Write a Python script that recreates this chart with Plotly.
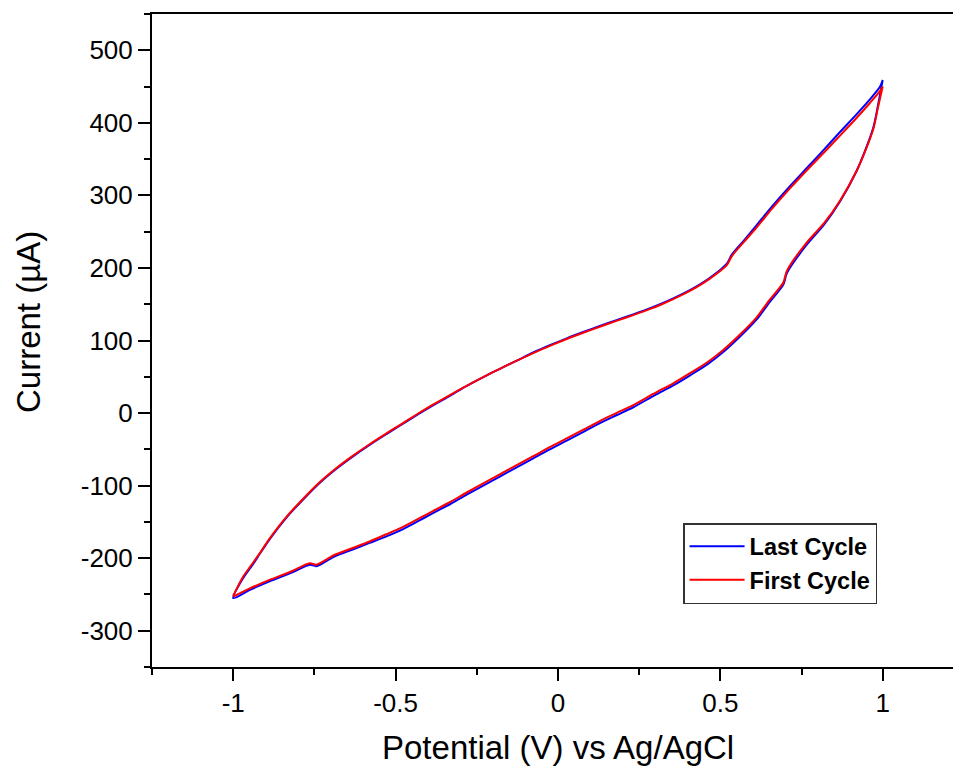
import plotly.graph_objects as go

# Cyclic voltammogram: forward scan (-1 V -> +1 V) then reverse scan (+1 V -> -1 V)
potential_fwd = [-1.0, -0.97, -0.94, -0.918, -0.90, -0.888, -0.836, -0.78, -0.733, -0.68,
                 -0.632, -0.58, -0.528, -0.487, -0.435, -0.385, -0.33, -0.281, -0.23, -0.179,
                 -0.13, -0.076, -0.025, 0.027, 0.08, 0.129, 0.18, 0.232, 0.284, 0.32,
                 0.355, 0.39, 0.427, 0.47, 0.52, 0.535, 0.575, 0.612, 0.66, 0.715,
                 0.765, 0.817, 0.87, 0.92, 0.96, 0.992, 1.0]
potential_rev = [1.0, 0.985, 0.972, 0.947, 0.92, 0.869, 0.82, 0.766, 0.705, 0.694,
                 0.65, 0.612, 0.56, 0.509, 0.46, 0.407, 0.355, 0.304, 0.284, 0.232,
                 0.18, 0.129, 0.08, 0.027, -0.025, -0.076, -0.13, -0.179, -0.23, -0.281,
                 -0.33, -0.385, -0.435, -0.487, -0.528, -0.58, -0.632, -0.69, -0.744, -0.764,
                 -0.82, -0.888, -0.95, -1.0]

# First cycle current (µA)
first_fwd = [-252, -226, -207, -193, -181, -173, -143, -116, -95, -75,
             -59, -43, -28, -16.5, -2, 11.5, 25.5, 37.5, 49.5, 61,
             71.5, 82.5, 92.5, 102, 111, 119, 127, 135, 143.5, 150,
             157, 164.5, 173.5, 186, 204, 216, 237, 256, 282, 310,
             334, 358, 383, 407, 427, 444, 450]
first_rev = [450, 420, 393, 362, 334, 293, 262, 235, 196, 180,
             155, 132, 108, 87, 70, 55, 41, 29, 24, 11,
             0, -11, -22.5, -35, -47, -59.5, -72.5, -84.5, -97, -109.5,
             -122, -135, -147, -159, -167, -177, -186, -196, -209, -207,
             -218, -230, -242, -253]

# Last cycle current (µA)
last_fwd = [-255, -228, -209, -194, -182, -174, -144, -117, -96, -76,
            -60, -44, -29, -17.5, -3, 10.5, 24.5, 37.5, 49.5, 61,
            71.5, 83.5, 93.5, 103, 112, 120, 128, 136, 144.5, 151,
            158, 165.5, 174.5, 187, 206, 218, 239, 259, 285, 313,
            337, 362, 388, 412, 432, 450, 459]
last_rev = [459, 423, 395, 363, 334, 292, 260, 232, 193, 177,
            152, 129, 105, 84, 67, 52, 38, 26, 21, 8,
            -3, -14, -25.5, -38, -50, -62.5, -75.5, -87.5, -100, -112.5,
            -125, -138, -150, -162, -170, -179, -188, -198, -211, -209,
            -220, -232, -244, -255]

x_ticks = [-1, -0.5, 0, 0.5, 1]
x_labels = ["-1", "-0.5", "0", "0.5", "1"]
y_ticks = [-300, -200, -100, 0, 100, 200, 300, 400, 500]
y_labels = ["-300", "-200", "-100", "0", "100", "200", "300", "400", "500"]

FONT = "Liberation Sans, Arial, sans-serif"

fig = go.Figure()
fig.add_trace(go.Scatter(x=potential_fwd + potential_rev, y=last_fwd + last_rev,
                         mode="lines", name="Last Cycle",
                         line=dict(color="#0000FF", width=2, shape="spline", smoothing=0.8)))
fig.add_trace(go.Scatter(x=potential_fwd + potential_rev, y=first_fwd + first_rev,
                         mode="lines", name="First Cycle",
                         line=dict(color="#FF0000", width=2, shape="spline", smoothing=0.8)))

axis_font = dict(family=FONT, size=26, color="black")

fig.update_layout(
    width=953, height=768,
    margin=dict(l=152, r=0, t=14, b=101),
    paper_bgcolor="white", plot_bgcolor="white",
    font=dict(family=FONT, color="black"),
    showlegend=True,
    legend=dict(x=0.663, y=0.2205, xanchor="left", yanchor="top",
                bgcolor="white", bordercolor="#333333", borderwidth=1.5,
                font=dict(family=FONT, size=23.5, color="black", weight="bold"),
                itemwidth=55, tracegroupgap=0),
    xaxis=dict(range=[-1.25, 1.2165], tickvals=x_ticks, ticktext=x_labels,
               showline=True, linecolor="black", linewidth=2, mirror=True,
               ticks="outside", ticklen=12, tickwidth=2, tickcolor="black",
               minor=dict(dtick=0.25, tick0=0, ticks="outside", ticklen=6,
                          tickwidth=2, tickcolor="black", showgrid=False),
               showgrid=False, zeroline=False, tickfont=axis_font),
    yaxis=dict(range=[-350, 550], tickvals=y_ticks, ticktext=y_labels,
               showline=True, linecolor="black", linewidth=2, mirror=False,
               ticks="outside", ticklen=12, tickwidth=2, tickcolor="black",
               minor=dict(dtick=50, tick0=0, ticks="outside", ticklen=6,
                          tickwidth=2, tickcolor="black", showgrid=False),
               showgrid=False, zeroline=False, tickfont=axis_font),
    annotations=[
        dict(text="Current (µA)", xref="paper", yref="paper", x=-0.1548, y=0.5283,
             xanchor="center", yanchor="middle", textangle=-90, showarrow=False,
             font=dict(family=FONT, size=33, color="black")),
        dict(text="Potential (V) vs Ag/AgCl", xref="paper", yref="paper", x=0.5069, y=-0.0925,
             xanchor="center", yanchor="top", showarrow=False,
             font=dict(family=FONT, size=33, color="black")),
    ],
)

fig.write_html("out.html")
